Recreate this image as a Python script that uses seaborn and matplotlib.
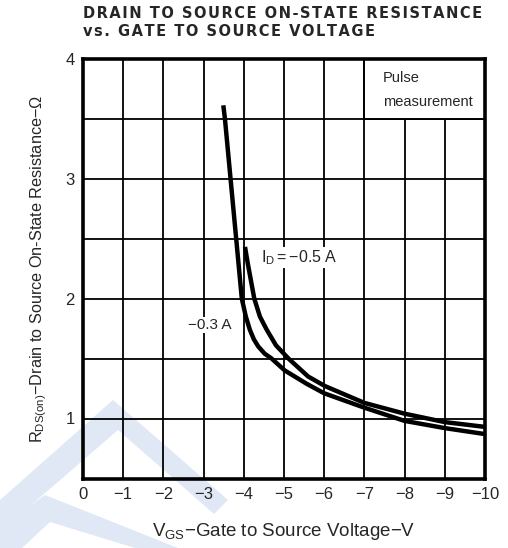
import matplotlib
matplotlib.use("Agg")
import matplotlib.pyplot as plt
import seaborn as sns
import pandas as pd
from matplotlib.patches import Rectangle, Polygon

# ---- data ----
vgs_03 = [-3.49, -3.53, -3.67, -3.81, -3.95, -4.05, -4.15, -4.25, -4.36, -4.52, -4.69, -5.02, -5.56, -6.0, -7.0, -8.0, -9.0, -10.0]
rds_03 = [3.61, 3.50, 3.00, 2.50, 2.00, 1.85, 1.74, 1.66, 1.60, 1.54, 1.50, 1.40, 1.29, 1.21, 1.09, 0.98, 0.92, 0.87]
vgs_05 = [-4.03, -4.10, -4.26, -4.40, -4.57, -4.80, -5.11, -5.60, -6.02, -7.0, -8.0, -9.0, -10.0]
rds_05 = [2.43, 2.29, 2.00, 1.85, 1.74, 1.61, 1.50, 1.35, 1.27, 1.13, 1.04, 0.97, 0.93]
x_ticks = [0, -1, -2, -3, -4, -5, -6, -7, -8, -9, -10]
x_ticklabels = ["0", "−1", "−2", "−3", "−4", "−5", "−6", "−7", "−8", "−9", "−10"]
y_ticks = [1, 2, 3, 4]
y_ticklabels = ["1", "2", "3", "4"]

df = pd.concat([
    pd.DataFrame({"vgs": vgs_03, "rds": rds_03, "id": "-0.3 A"}),
    pd.DataFrame({"vgs": vgs_05, "rds": rds_05, "id": "-0.5 A"}),
])

sns.set_theme(style="white")
plt.rcParams["font.family"] = ["Liberation Sans", "DejaVu Sans"]
plt.rcParams["mathtext.fontset"] = "custom"
plt.rcParams["mathtext.rm"] = "Liberation Sans"
plt.rcParams["mathtext.it"] = "Liberation Sans"

W, H = 508, 548
fig = plt.figure(figsize=(W / 100, H / 100), dpi=100)
fig.patch.set_facecolor("white")

def px(x, y):
    return (x / W, 1 - y / H)

# light blue watermark bands
wm = "#e0e8f6"
for pts in ([(0, 500), (113, 400), (228, 500), (214, 514), (118, 430), (0, 532)],
            [(0, 528), (45, 495), (178, 548), (135, 548), (50, 522), (22, 548), (0, 548)]):
    fig.add_artist(Polygon([px(*p) for p in pts], closed=True, transform=fig.transFigure,
                           facecolor=wm, edgecolor="none", zorder=-5))

ax = fig.add_axes([83 / W, 1 - 478.5 / H, (485 - 83) / W, (478.5 - 58.5) / H])
ax.set_facecolor("none")

sns.lineplot(data=df, x="vgs", y="rds", units="id", estimator=None, sort=False,
             color="black", lw=3.2, ax=ax, zorder=4, solid_joinstyle="round",
             solid_capstyle="butt")

ax.set_xlim(0, -10)
ax.set_ylim(0.5, 4)
ax.set_xticks(x_ticks)
ax.set_xticklabels(x_ticklabels)
ax.set_yticks(y_ticks)
ax.set_yticklabels(y_ticklabels)
ax.set_yticks([0.5 + 0.5 * i for i in range(8)], minor=True)
ax.grid(True, which="both", color="black", lw=1.3)
ax.tick_params(axis="both", which="both", length=0, labelsize=12, pad=6)
for s in ax.spines.values():
    s.set_color("black")
    s.set_linewidth(2.6)
    s.set_zorder(6)

ax.set_xlabel(r"V$_{\rm GS}$$-$Gate to Source Voltage$-$V", fontsize=13.5, labelpad=14)
ax.set_ylabel(r"R$_{\rm DS(on)}$$-$Drain to Source On-State Resistance$-\Omega$",
              fontsize=11.7, labelpad=12)

# Pulse measurement box
ax.add_patch(Rectangle((-7.0, 3.5), -3.0, 0.5, facecolor="white", edgecolor="black",
                       lw=1.4, zorder=5))
ax.text(-7.46, 3.84, "Pulse", fontsize=10.5, va="center", ha="left", zorder=7)
ax.text(-7.46, 3.635, "measurement", fontsize=10.5, va="center", ha="left", zorder=7)

# curve labels
ax.text(-4.44, 2.34, r"I$_{\rm D}$$=$$-$0.5 A", fontsize=11.5, va="center", ha="left", zorder=7,
        bbox=dict(facecolor="white", edgecolor="none", pad=1))
ax.text(-2.62, 1.78, "−0.3 A", fontsize=11, va="center", ha="left", zorder=7,
        bbox=dict(facecolor="white", edgecolor="none", pad=1))

hs = "\u200a"
t1 = hs.join("DRAIN TO SOURCE ON-STATE RESISTANCE")
t2 = hs.join("vs. GATE TO SOURCE VOLTAGE")
fig.text(83 / W, 1 - 18 / H, t1, fontsize=10.5,
         fontweight="bold", family=["DejaVu Sans"], ha="left", va="baseline")
fig.text(83 / W, 1 - 36 / H, t2, fontsize=10.5,
         fontweight="bold", family=["DejaVu Sans"], ha="left", va="baseline")

fig.savefig("out.png", dpi=100)
